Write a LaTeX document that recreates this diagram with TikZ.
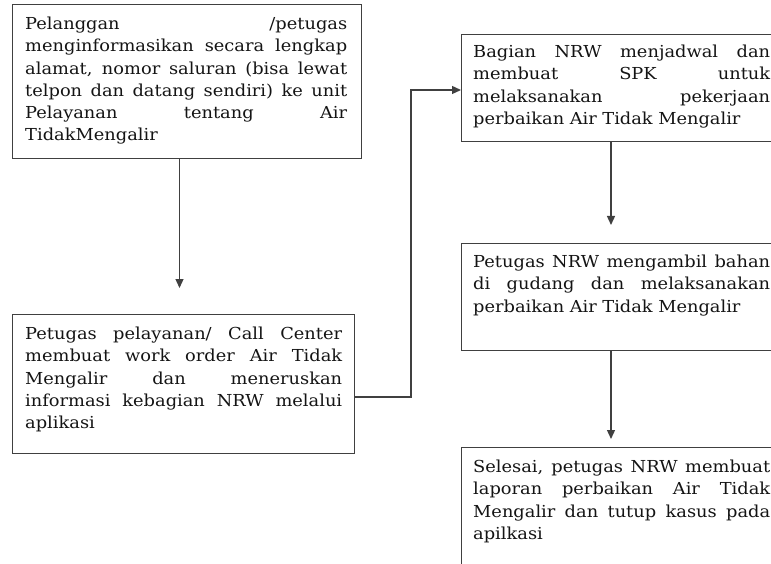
\documentclass[tikz,border=0pt]{standalone}
\usepackage{fontspec}
\setmainfont[FakeStretch=1.08]{DejaVu Serif}
\usetikzlibrary{arrows.meta}
\newcommand{\jl}[2]{\leavevmode\strut\hbox to #1{\spaceskip=\fontdimen2\font plus 1fil\relax #2}}
\tikzset{
  box/.style={draw=black!75, line width=1.3pt, anchor=north west, inner sep=0pt},
  txt/.style={anchor=north west, inner sep=0pt, align=left,
    font=\fontsize{16.5}{22.3}\selectfont, text=black!92},
  conn/.style={draw=black!75, line width=1.3pt},
  arr/.style={conn, -{Triangle[length=9pt,width=8pt]}}
}
\begin{document}
\begin{tikzpicture}[x=1pt,y=-1pt]
\useasboundingbox (0,0) rectangle (771,564);
\clip (0,0) rectangle (771,564);
% boxes
\node[box, minimum width=349pt, minimum height=154pt] (b1) at (12,4) {};
\node[box, minimum width=342pt, minimum height=139pt] (b2) at (12,314) {};
\node[box, minimum width=330pt, minimum height=107pt] (b3) at (461,34) {};
\node[box, minimum width=330pt, minimum height=107pt] (b4) at (461,243) {};
\node[box, minimum width=330pt, minimum height=160pt] (b5) at (461,447) {};
% texts
\node[txt, text width=340pt] (t1) at (25,13.6) {\jl{322pt}{Pelanggan /petugas}\\
  \jl{322pt}{menginformasikan secara lengkap}\\
  \jl{322pt}{alamat, nomor saluran (bisa lewat}\\
  \jl{322pt}{telpon dan datang sendiri) ke unit}\\
  \jl{322pt}{Pelayanan tentang Air}\\
  TidakMengalir};
\node[txt, text width=330pt] (t2) at (25,323.6) {\jl{317pt}{Petugas pelayanan/ Call Center}\\
  \jl{317pt}{membuat work order Air Tidak}\\
  \jl{317pt}{Mengalir dan meneruskan}\\
  \jl{317pt}{informasi kebagian NRW melalui}\\
  aplikasi};
\node[txt, text width=310pt] (t3) at (473,41.6) {\jl{297pt}{Bagian NRW menjadwal dan}\\
  \jl{297pt}{membuat SPK untuk}\\
  \jl{297pt}{melaksanakan pekerjaan}\\
  perbaikan Air Tidak Mengalir};
\node[txt, text width=310pt] (t4) at (473,251.6) {\jl{297pt}{Petugas NRW mengambil bahan}\\
  \jl{297pt}{di gudang dan melaksanakan}\\
  perbaikan Air Tidak Mengalir};
\node[txt, text width=310pt] (t5) at (473,456.6) {\jl{297pt}{Selesai, petugas NRW membuat}\\
  \jl{297pt}{laporan perbaikan Air Tidak}\\
  \jl{297pt}{Mengalir dan tutup kasus pada}\\
  apilkasi};
% connectors
\coordinate (e1) at (179.5,288);
\coordinate (e2) at (611,225);
\coordinate (e3) at (611,439);
\coordinate (k1) at (411,397);
\coordinate (k2) at (461,90);
\draw[arr] (b1.south -| e1) -- (e1);
\draw[arr] (b3.south -| e2) -- (e2);
\draw[arr] (b4.south -| e3) -- (e3);
\draw[arr] (b2.east |- k1) -- (k1) |- (b3.west |- k2);
\end{tikzpicture}
\end{document}
